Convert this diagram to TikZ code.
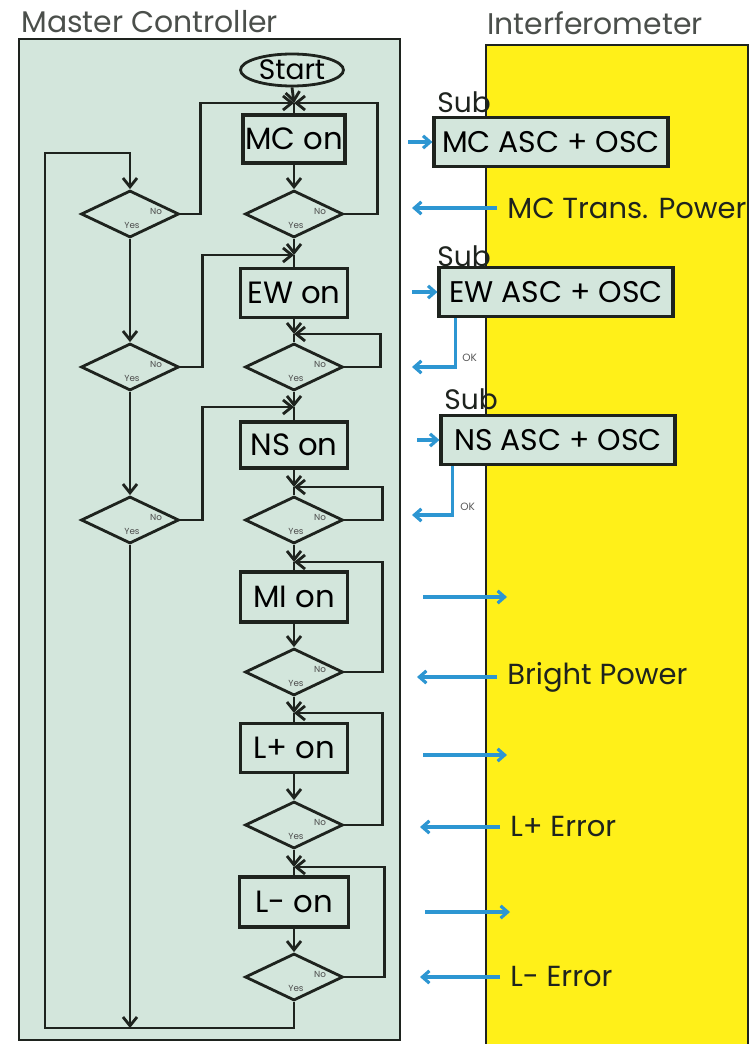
\documentclass[tikz,border=0pt]{standalone}
\usepackage{fontspec}
\setmainfont{Poppins}
\usetikzlibrary{shapes.geometric,arrows.meta}
\definecolor{mint}{RGB}{211,230,220}
\definecolor{ifyellow}{RGB}{255,240,25}
\definecolor{cblue}{RGB}{45,150,210}
\definecolor{ink}{RGB}{30,35,30}
\begin{document}
\begin{tikzpicture}[x=0.02cm,y=-0.02cm,
  flow/.style={draw=ink, line width=1.6pt},
  arr/.style={flow, -{Straight Barb[length=5pt,width=8pt]}},
  barr/.style={draw=cblue, line width=1.8pt, -{Straight Barb[length=4pt,width=7pt]}},
  stepbox/.style={draw=ink, line width=1.8pt, fill=mint, minimum width=2.14cm, minimum height=0.98cm, inner sep=0, font=\fontsize{17.5}{19}\selectfont},
  subbox/.style={draw=ink, line width=1.8pt, fill=mint, minimum width=4.68cm, minimum height=0.98cm, inner sep=0, font=\fontsize{17}{19}\selectfont},
  dec/.style={diamond, draw=ink, line width=1.6pt, minimum width=1.96cm, minimum height=0.94cm, inner sep=0},
  yn/.style={font=\fontsize{5}{6}\selectfont, text=gray!60!black, inner sep=0},
  title/.style={font=\fontsize{17}{19}\selectfont, text=ink!80, inner sep=0, anchor=base west},
  sig/.style={font=\fontsize{16.5}{18}\selectfont, text=ink, inner xsep=0.2cm, inner ysep=0, anchor=west},
  sublbl/.style={font=\fontsize{16}{18}\selectfont, text=ink, inner sep=0, anchor=west},
  oklbl/.style={font=\fontsize{6}{7}\selectfont, text=gray!70!black, inner sep=0, anchor=west}]
\useasboundingbox (0,0) rectangle (753,1044);
% panels
\fill[white] (0,0) rectangle (753,1044);
\fill[ifyellow] (486,45) rectangle (748,1044);
\draw[ink, line width=1.4pt] (486,1044) -- (486,45) -- (748,45) -- (748,1044);
\draw[ink, line width=1.6pt, fill=mint] (19,39) rectangle (400,1040);
\node[title] (mctitle) at (21,33) {Master Controller};
\node[title] (iftitle) at (487,35) {Interferometer};
% flowchart nodes
\node[ellipse, draw=ink, line width=1.6pt, fill=mint, minimum width=2.06cm, minimum height=0.64cm, inner sep=0, font=\fontsize{16}{18}\selectfont] (start) at (292,70) {Start};
\node[stepbox, minimum width=2.04cm, minimum height=0.96cm] (mc) at (294,139) {MC on};
\node[dec] (d1) at (294,214) {};
\node[dec] (l1) at (130,214) {};
\node[stepbox] (ew) at (294,293) {EW on};
\node[dec] (d2) at (294,367) {};
\node[dec] (l2) at (130,367) {};
\node[stepbox, minimum height=0.92cm] (ns) at (294,445) {NS on};
\node[dec] (d3) at (294,520) {};
\node[dec] (l3) at (130,520) {};
\node[stepbox, minimum height=1.0cm] (mi) at (294,597) {MI on};
\node[dec] (d4) at (294,672) {};
\node[stepbox] (lp) at (294,748) {L+ on};
\node[dec] (d5) at (294,825) {};
\node[stepbox, minimum width=2.18cm, minimum height=1.0cm] (lm) at (294,902) {L- on};
\node[dec] (d6) at (294,977) {};
% yes / no labels
\foreach \d in {d1,l1,d2,l2,d3,l3,d4,d5,d6}{
  \node[yn] at ([xshift=0.52cm,yshift=0.05cm]\d.center) {No};
  \node[yn] at ([xshift=0.04cm,yshift=-0.22cm]\d.center) {Yes};
}
% junctions
\coordinate (j1) at (294,103);
\coordinate (j2) at (294,255);
\coordinate (j3) at (294,334);
\coordinate (j4) at (294,407);
\coordinate (j5) at (294,487);
\coordinate (j6) at (294,562);
\coordinate (j7) at (294,713);
\coordinate (j8) at (294,867);
\coordinate (bl) at (45,1028);
\coordinate (tl) at (45,153);
% right column
\draw[arr] (start.south) -- (j1);
\draw[flow] (j1) -- (mc.north);
\draw[arr] (mc.south) -- (d1.north);
\draw[arr] (d1.east) -- ++(33,0) |- (j1);
\draw[arr] (d1.south) -- (j2);
\draw[flow] (j2) -- (ew.north);
\draw[arr] (ew.south) -- (j3);
\draw[flow] (j3) -- (d2.north);
\draw[arr] (d2.east) -- ++(36,0) |- (j3);
\draw[arr] (d2.south) -- (j4);
\draw[flow] (j4) -- (ns.north);
\draw[arr] (ns.south) -- (j5);
\draw[flow] (j5) -- (d3.north);
\draw[arr] (d3.east) -- ++(38,0) |- (j5);
\draw[arr] (d3.south) -- (j6);
\draw[flow] (j6) -- (mi.north);
\draw[arr] (mi.south) -- (d4.north);
\draw[arr] (d4.east) -- ++(38,0) |- (j6);
\draw[arr] (d4.south) -- (j7);
\draw[flow] (j7) -- (lp.north);
\draw[arr] (lp.south) -- (d5.north);
\draw[arr] (d5.east) -- ++(38,0) |- (j7);
\draw[arr] (d5.south) -- (j8);
\draw[flow] (j8) -- (lm.north);
\draw[arr] (lm.south) -- (d6.north);
\draw[arr] (d6.east) -- ++(40,0) |- (j8);
% left column
\draw[arr] (d6.south) |- (bl) -- (tl) -| (l1.north);
\draw[arr] (l1.east) -- ++(20,0) |- (j1);
\draw[arr] (l1.south) -- (l2.north);
\draw[arr] (l2.east) -- ++(22,0) |- (j2);
\draw[arr] (l2.south) -- (l3.north);
\draw[arr] (l3.east) -- ++(22,0) |- (j4);
\draw[arr] (l3.south) -- (l3.south |- bl);
% interferometer side
\node[sublbl] (sub1) at (437,102) {Sub};
\node[subbox] (mcsub) at (551,142) {MC ASC + OSC};
\node[sublbl] (sub2) at (437,256) {Sub};
\node[subbox] (ewsub) at (556,292) {EW ASC + OSC};
\node[sublbl] (sub3) at (444,399) {Sub};
\node[subbox] (nssub) at (558,440) {NS ASC + OSC};
\coordinate (in1) at (408,142);
\coordinate (in2) at (412,292);
\coordinate (in3) at (417,440);
\draw[barr] (in1) -- (mcsub.west);
\draw[barr] (in2) -- (ewsub.west);
\draw[barr] (in3) -- (nssub.west);
\node[sig] (tp) at (497,208) {MC Trans. Power};
\coordinate (tpo) at (412,208);
\draw[barr] (tp.west) -- (tpo);
\coordinate (ok1) at (412,367);
\coordinate (ok2) at (412,515);
\draw[barr] ([xshift=0.36cm]ewsub.south west) |- (ok1);
\draw[barr] ([xshift=0.26cm]nssub.south west) |- (ok2);
\node[oklbl] (okt1) at (462,358) {OK};
\node[oklbl] (okt2) at (460,507) {OK};
\coordinate (o1a) at (423,597); \coordinate (o1b) at (507,597);
\coordinate (o2a) at (423,755); \coordinate (o2b) at (507,755);
\coordinate (o3a) at (425,912); \coordinate (o3b) at (510,912);
\draw[barr] (o1a) -- (o1b);
\draw[barr] (o2a) -- (o2b);
\draw[barr] (o3a) -- (o3b);
\node[sig] (bp) at (497,677) {Bright Power};
\coordinate (bpo) at (417,677);
\draw[barr] (bp.west) -- (bpo);
\node[sig] (lpe) at (500,827) {L+ Error};
\coordinate (lpeo) at (420,827);
\draw[barr] (lpe.west) -- (lpeo);
\node[sig] (lme) at (500,977) {L- Error};
\coordinate (lmeo) at (420,977);
\draw[barr] (lme.west) -- (lmeo);
\end{tikzpicture}
\end{document}
